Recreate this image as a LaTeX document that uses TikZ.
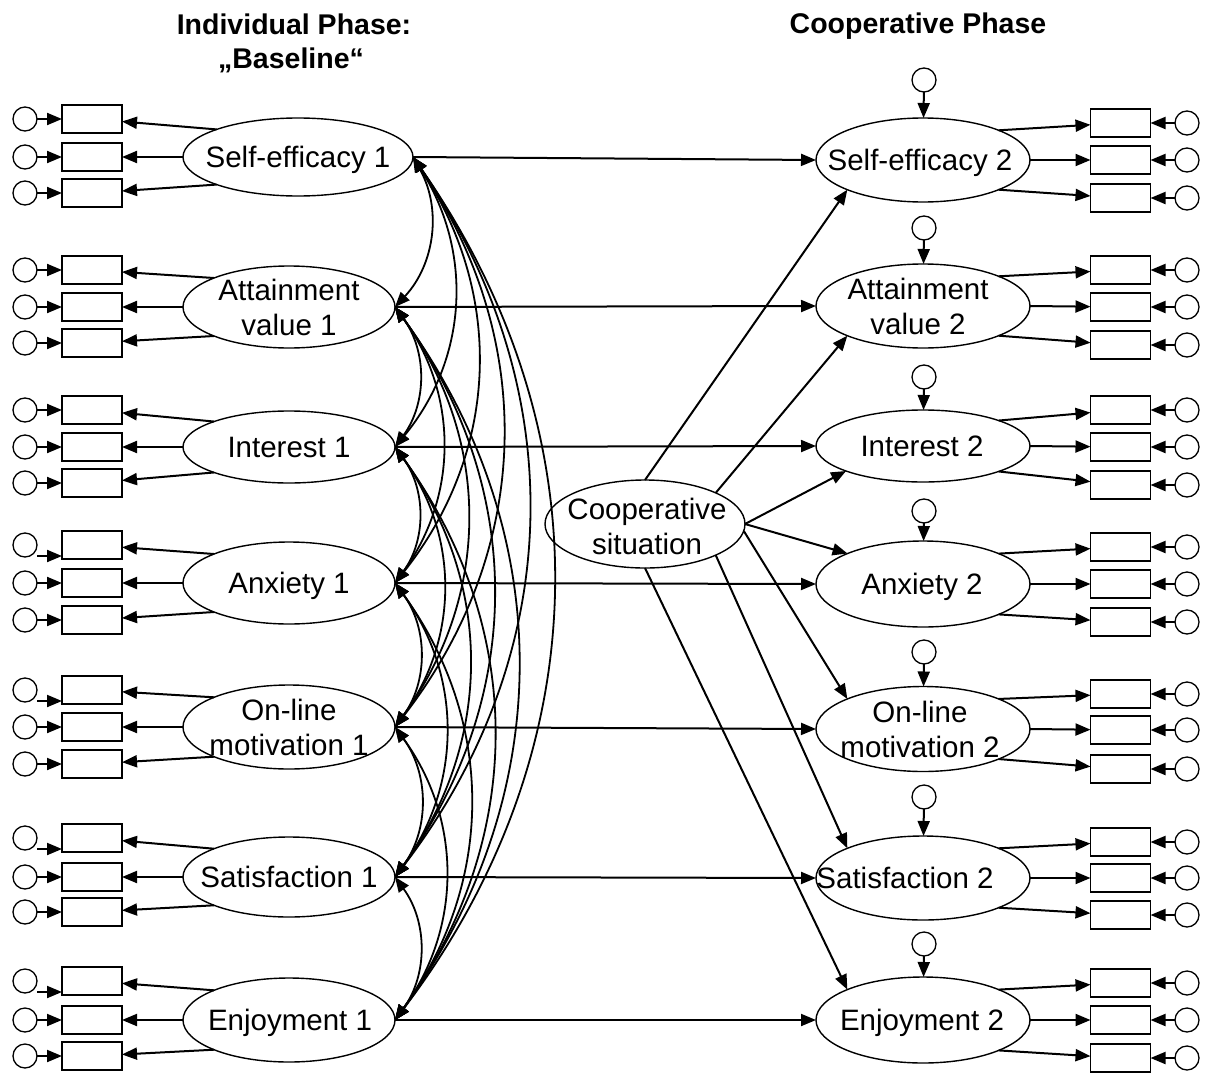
\documentclass[tikz,border=0pt]{standalone}
\usepackage{fontspec}
\setmainfont{Liberation Sans}
\usetikzlibrary{arrows.meta,shapes.geometric}
\tikzset{
  lat/.style={draw, ellipse, line width=1.4pt, inner sep=0pt, outer sep=0pt},
  obs/.style={draw, rectangle, line width=1.5pt, minimum width=60pt, minimum height=28pt, inner sep=0pt, outer sep=0pt},
  err/.style={draw, circle, line width=1.3pt, minimum size=24pt, inner sep=0pt, outer sep=0pt},
  txt/.style={font=\fontsize{29.5}{35}\selectfont, align=center, inner sep=0pt},
  txt1/.style={txt, text depth=0pt},
  ttl/.style={font=\bfseries\fontsize{28.5}{34}\selectfont, inner sep=0pt, anchor=base},
  tip/.tip={Triangle[length=15pt,width=12pt]},
  arr/.style={line width=2pt, -tip},
  corr/.style={line width=1.8pt, tip-tip},
}
\begin{document}
\begin{tikzpicture}[x=1pt,y=1pt]
\useasboundingbox (0,0) rectangle (1207,-1073);

% titles
\node[ttl] (T1a) at (294,-35) {Individual Phase:};
\node[ttl] (T1b) at (291,-69) {„Baseline“};
\node[ttl] (T2) at (918,-34) {Cooperative Phase};

% left latent variables
\node[lat, minimum width=230pt, minimum height=78pt] (L1) at (298,-157) {};
\node[lat, minimum width=212pt, minimum height=82pt] (L2) at (289,-307) {};
\node[lat, minimum width=212pt, minimum height=72pt] (L3) at (289,-447) {};
\node[lat, minimum width=212pt, minimum height=82pt] (L4) at (289,-583) {};
\node[lat, minimum width=212pt, minimum height=84pt] (L5) at (289,-727) {};
\node[lat, minimum width=212pt, minimum height=80pt] (L6) at (289,-877) {};
\node[lat, minimum width=212pt, minimum height=84pt] (L7) at (289,-1020) {};
\node[txt1] (L1t) at (L1) {Self-efficacy 1};
\node[txt]  (L2t) at (L2) {Attainment\\value 1};
\node[txt1] (L3t) at (L3) {Interest 1};
\node[txt1] (L4t) at (L4) {Anxiety 1};
\node[txt]  (L5t) at (L5) {On-line\\motivation 1};
\node[txt1] (L6t) at (L6) {Satisfaction 1};
\node[txt1] (L7t) at (290,-1020) {Enjoyment 1};

% right latent variables
\node[lat, minimum width=214pt, minimum height=84pt] (R1) at (923,-160) {};
\node[lat, minimum width=214pt, minimum height=84pt] (R2) at (923,-306) {};
\node[lat, minimum width=214pt, minimum height=72pt] (R3) at (923,-446) {};
\node[lat, minimum width=214pt, minimum height=86pt] (R4) at (923,-584) {};
\node[lat, minimum width=214pt, minimum height=85pt] (R5) at (923,-729) {};
\node[lat, minimum width=214pt, minimum height=84pt] (R6) at (923,-878) {};
\node[lat, minimum width=214pt, minimum height=86pt] (R7) at (923,-1020) {};
\node[txt1] (R1t) at (920,-160) {Self-efficacy 2};
\node[txt]  (R2t) at (918,-306) {Attainment\\value 2};
\node[txt1] (R3t) at (922,-446) {Interest 2};
\node[txt1] (R4t) at (922,-584) {Anxiety 2};
\node[txt]  (R5t) at (920,-729) {On-line\\motivation 2};
\node[txt1] (R6t) at (905,-878) {Satisfaction 2};
\node[txt1] (R7t) at (922,-1020) {Enjoyment 2};

% cooperative situation
\node[lat, minimum width=200pt, minimum height=88pt] (C) at (645,-524) {};
\node[txt] (Ct) at (647,-526) {Cooperative\\situation};

% left indicators
\foreach \n/\a/\b/\c in {1/119/157/193, 2/270/307/343, 3/410/447/483, 4/545/583/620, 5/690/727/764, 6/838/877/912, 7/981/1020/1056}{
  \node[obs] (LBa\n) at (92,-\a) {};
  \node[obs] (LBb\n) at (92,-\b) {};
  \node[obs] (LBc\n) at (92,-\c) {};
  \node[err] (LEa\n) at (25,-\a) {};
  \node[err] (LEb\n) at (25,-\b) {};
  \node[err] (LEc\n) at (25,-\c) {};
  \draw[arr] (L\n.north west) -- (LBa\n);
  \draw[arr] (L\n.west) -- (LBb\n);
  \draw[arr] (L\n.south west) -- (LBc\n);
  \draw[arr] (LEb\n) -- (LBb\n);
  \draw[arr] (LEc\n) -- (LBc\n);
}
\foreach \n in {1,2,3}{\draw[arr] (LEa\n) -- (LBa\n);}
\foreach \n in {4,5,6,7}{\draw[arr] ([yshift=-11pt]LEa\n.east) -- ([yshift=-11pt]LBa\n.west);}

% right indicators
\foreach \n/\d/\a/\b/\c in {1/80/123/160/198, 2/228/270/307/345, 3/377/410/447/485, 4/511/547/584/622, 5/652/694/730/769, 6/797/842/878/915, 7/944/983/1020/1058}{
  \node[obs] (RBa\n) at (1120.5,-\a) {};
  \node[obs] (RBb\n) at (1120.5,-\b) {};
  \node[obs] (RBc\n) at (1120.5,-\c) {};
  \node[err] (REa\n) at (1187,-\a) {};
  \node[err] (REb\n) at (1187,-\b) {};
  \node[err] (REc\n) at (1187,-\c) {};
  \node[err] (RD\n) at (924,-\d) {};
  \draw[arr] (R\n.north east) -- (RBa\n);
  \draw[arr] (R\n.east) -- (RBb\n);
  \draw[arr] (R\n.south east) -- (RBc\n);
  \draw[arr] (REa\n) -- (RBa\n);
  \draw[arr] (REb\n) -- (RBb\n);
  \draw[arr] (REc\n) -- (RBc\n);
  \draw[arr] (RD\n) -- (R\n);
}

% stability paths
\foreach \n in {1,...,7}{\draw[arr] (L\n.east) -- (R\n.west);}

% cooperative situation effects
\draw[arr] (C.north) -- (R1.south west);
\draw[arr] (C.north east) -- (R2.south west);
\draw[arr] (C.east) -- (R3.198);
\draw[arr] (C.east) -- (R4.158);
\draw[arr] (C.-4) -- (R5.north west);
\draw[arr] (C.south east) -- (R6.north west);
\draw[arr] (C.south) -- (R7.north west);

% correlations among baseline variables
\foreach \i in {1,...,6}{
  \pgfmathtruncatemacro{\k}{\i+1}
  \foreach \j in {\k,...,7}{
    \draw[corr] (L\i.east) to[bend left=36] (L\j.east);
  }
}
\end{tikzpicture}
\end{document}
